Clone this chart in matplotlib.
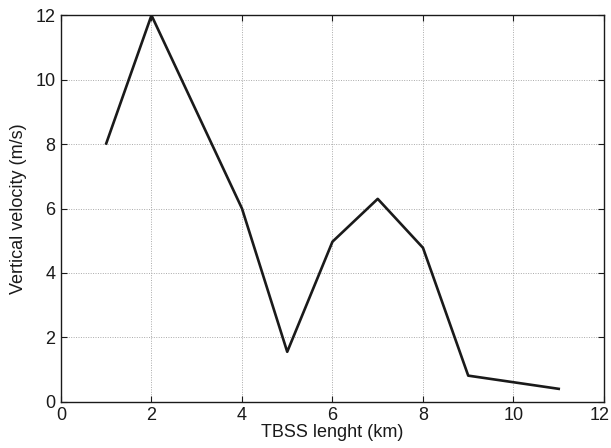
import matplotlib
matplotlib.use("Agg")
import matplotlib.pyplot as plt
import matplotlib.transforms as mtransforms

# Data
tbss_length = [1, 2, 3, 4, 5, 6, 7, 8, 9, 11]
vertical_velocity = [8.02, 12.0, 9.0, 6.0, 1.55, 4.97, 6.3, 4.78, 0.81, 0.4]
ticks = [0, 2, 4, 6, 8, 10, 12]

plt.rcParams['font.family'] = ['Liberation Sans', 'DejaVu Sans']

fig = plt.figure(figsize=(6.11, 4.48), dpi=100)
ax = fig.add_axes([0.0998, 0.1033, 0.8887, 0.8625])

ax.plot(tbss_length, vertical_velocity, color='#1a1a1a', linewidth=1.9)

ax.set_xlim(0, 12)
ax.set_ylim(0, 12)
ax.set_xticks(ticks)
ax.set_yticks(ticks)
ax.grid(True, linestyle=(0, (1, 1.5)), color='#aaaaaa', linewidth=0.7)
ax.tick_params(direction='in', top=True, right=True, length=4,
               labelsize=13, colors='#1a1a1a', pad=4)
for s in ax.spines.values():
    s.set_linewidth(1.0)
    s.set_color('#1a1a1a')

# nudge the last x tick label so it stays inside the figure
last = ax.get_xticklabels()[-1]
last.set_transform(last.get_transform() +
                   mtransforms.ScaledTranslation(-4 / 100, 0, fig.dpi_scale_trans))

ax.set_xlabel("TBSS lenght (km)", fontsize=13, color='#1a1a1a', labelpad=0)
ax.set_ylabel("Vertical velocity (m/s)", fontsize=13, color='#1a1a1a', labelpad=6)

fig.savefig("out.png", dpi=100)
